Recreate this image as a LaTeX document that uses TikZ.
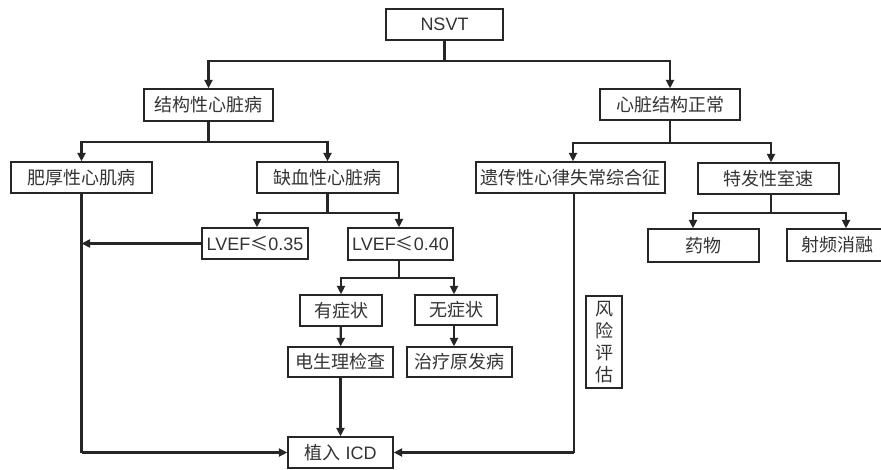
\documentclass[tikz,border=0pt]{standalone}
\usepackage{fontspec}
\setmainfont{Liberation Sans}
\newfontfamily\cjk{Noto Sans CJK SC}
\usetikzlibrary{arrows.meta}
\tikzset{
  box/.style={draw=black!85, line width=1.3pt, inner sep=0pt, font=\fontsize{18}{20}\selectfont, text=black!80},
  con/.style={draw=black!85, line width=2.2pt},
  arr/.style={draw=black!85, line width=2.2pt, -{Triangle[length=8.5pt,width=8pt]}}}
\begin{document}
\begin{tikzpicture}[x=1pt,y=-1pt]
\useasboundingbox (0,0) rectangle (881,469);
\fill[white] (0,0) rectangle (881,469);
% nodes
\node[box, minimum width=117pt, minimum height=31pt] (nsvt) at (444.5,24.5) {NSVT};
\node[box, minimum width=129pt, minimum height=32pt] (jg) at (208.5,105) {\cjk 结构性心脏病};
\node[box, minimum width=140pt, minimum height=31pt] (zc) at (670,104.5) {\cjk 心脏结构正常};
\node[box, minimum width=141pt, minimum height=31pt] (fh) at (81.5,177.5) {\cjk 肥厚性心肌病};
\node[box, minimum width=141pt, minimum height=31pt] (qx) at (327.5,177.5) {\cjk 缺血性心脏病};
\node[box, minimum width=189pt, minimum height=31pt] (yc) at (570.5,177.5) {\cjk 遗传性心律失常综合征};
\node[box, minimum width=141pt, minimum height=31pt] (tf) at (768.5,178.5) {\cjk 特发性室速};
\node[box, minimum width=106pt, minimum height=31pt] (lv35) at (255,243.5) {LVEF{\cjk ≤}0.35};
\node[box, minimum width=105pt, minimum height=32pt] (lv40) at (400.5,244) {LVEF{\cjk ≤}0.40};
\node[box, minimum width=111pt, minimum height=33pt] (yw) at (703.5,245.5) {\cjk 药物};
\node[box, minimum width=100pt, minimum height=32pt] (sp) at (837,245) {\cjk 射频消融};
\node[box, minimum width=82pt, minimum height=31pt] (yz) at (341,310.5) {\cjk 有症状};
\node[box, minimum width=82pt, minimum height=30pt] (wz) at (456,310) {\cjk 无症状};
\node[box, minimum width=105pt, minimum height=30pt] (dsl) at (340.5,362) {\cjk 电生理检查};
\node[box, minimum width=105pt, minimum height=30pt] (zl) at (459.5,362) {\cjk 治疗原发病};
\node[box, minimum width=105pt, minimum height=31pt] (icd) at (340.5,452.5) {{\cjk 植入} ICD};
\node[box, minimum width=36pt, minimum height=92pt, align=center, font=\fontsize{18}{22}\selectfont\cjk] (fx) at (604,342) {风\\险\\评\\估};
% branch points
\coordinate (b1) at (444.5,61);
\coordinate (b2) at (208.5,142);
\coordinate (b3) at (670,143);
\coordinate (b4) at (327.5,213);
\coordinate (b5) at (771,213);
\coordinate (b6) at (399,278);
\coordinate (c1) at (81.5,452.5);
\coordinate (c2) at (574,452.5);
% connectors
\draw[con] (nsvt) -- (b1);
\draw[arr] (b1) -| (jg.north);
\draw[arr] (b1) -| (zc.north);
\draw[con] (jg) -- (b2);
\draw[arr] (b2) -| (fh.north);
\draw[arr] (b2) -| (qx.north);
\draw[con] (zc) -- (b3);
\draw[arr] (b3) -| ([xshift=2.5pt]yc.north);
\draw[arr] (b3) -| ([xshift=2.5pt]tf.north);
\draw[con] (qx) -- (b4);
\draw[arr] (b4) -| ([xshift=2pt]lv35.north);
\draw[arr] (b4) -| ([xshift=-1.5pt]lv40.north);
\draw[con] (tf.south -| b5) -- (b5);
\draw[arr] (b5) -| ([xshift=-10.5pt]yw.north);
\draw[arr] (b5) -| ([xshift=9pt]sp.north);
\draw[con] (lv40.south -| b6) -- (b6);
\draw[arr] (b6) -| (yz.north);
\draw[arr] (b6) -| ([xshift=-2pt]wz.north);
\draw[arr] (yz) -- (dsl);
\draw[arr] ([xshift=-2pt]wz.south) -- ([xshift=-2pt]wz.south |- zl.north);
\draw[arr] (dsl) -- (icd);
\draw[arr] (lv35.west) -- (lv35.west -| fh.south);
\draw[con] (fh.south) -- (c1);
\draw[arr] (c1) -- (icd.west);
\draw[con] (yc.south -| c2) -- (c2);
\draw[arr] (c2) -- (icd.east);
\end{tikzpicture}
\end{document}
